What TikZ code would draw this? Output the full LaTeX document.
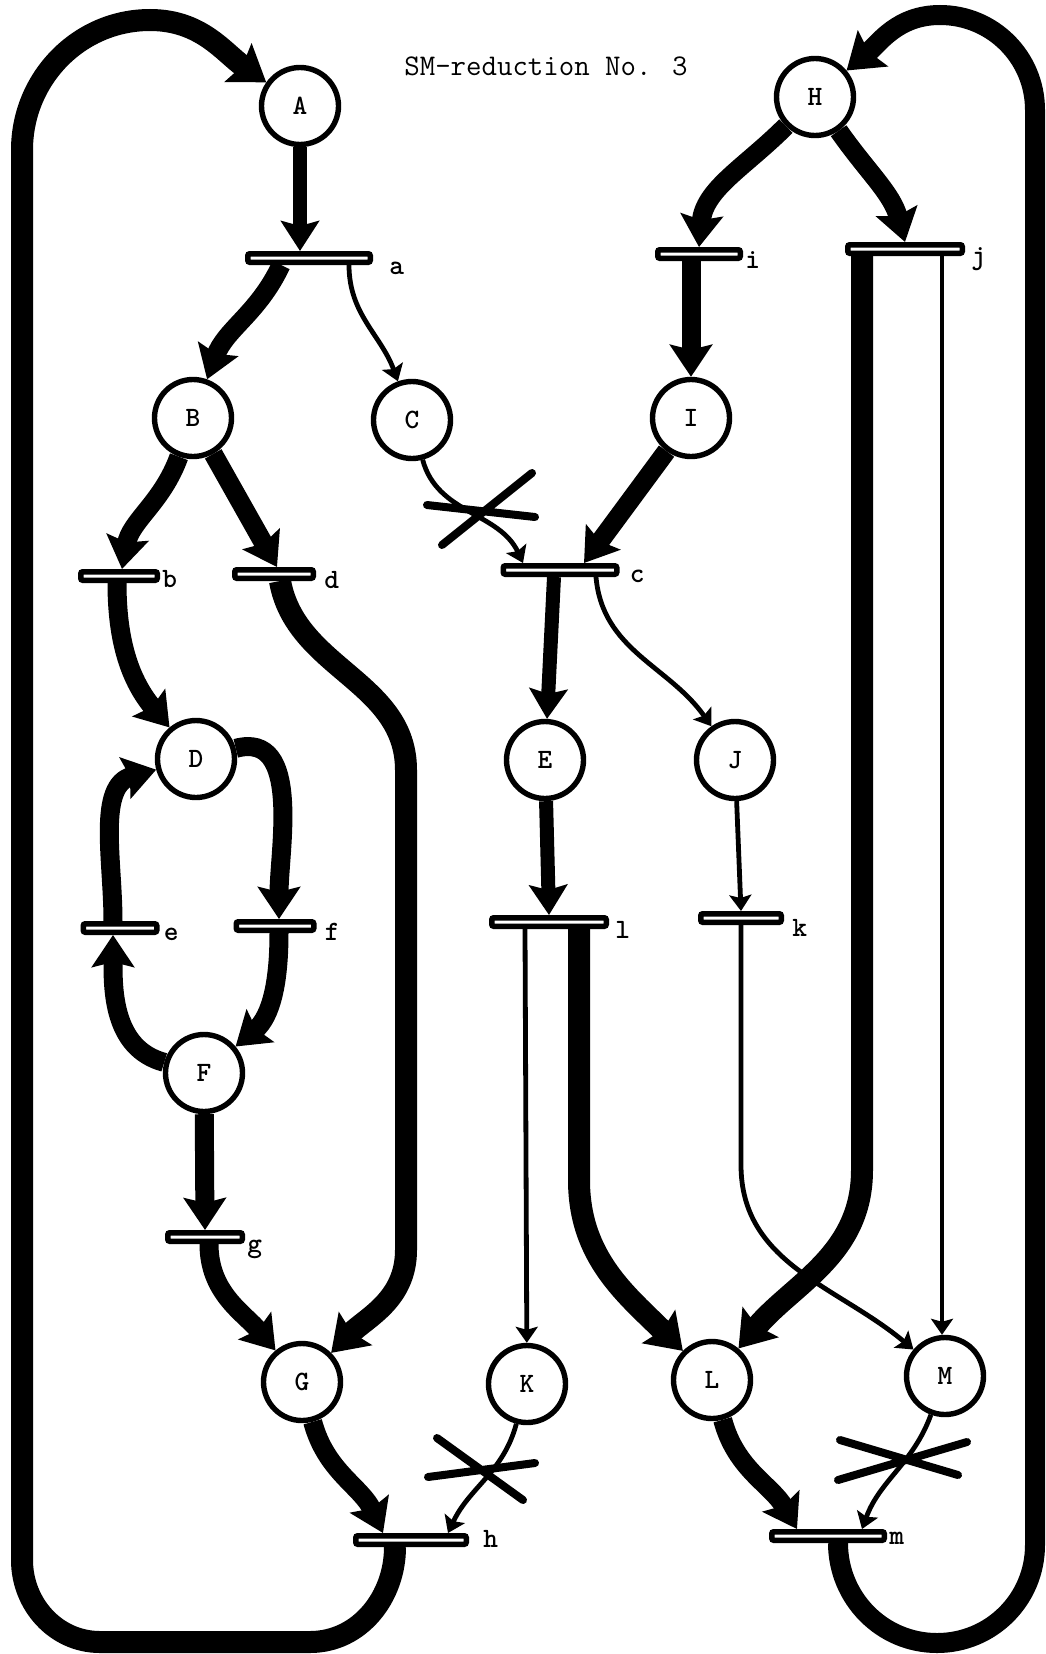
\documentclass[tikz,border=0pt]{standalone}
\usepackage{fontspec}
\newfontfamily\placefont{lmmonolt10-bold.otf}
\usetikzlibrary{arrows.meta}

\tikzset{
  place/.style={circle, draw, fill=white, line width=2.7pt, minimum size=38.5pt, inner sep=0pt,
    font=\placefont\fontsize{14}{15}\selectfont},
  trans/.style={rectangle, draw, fill=white, line width=2.75pt, minimum height=4.25pt,
    inner sep=0pt, rounded corners=1pt},
  lbl/.style={font=\placefont\fontsize{14}{15}\selectfont, inner sep=1pt, yshift=-3pt},
  fatarc/.style={line width=9.5pt, -{Stealth[length=16pt,width=21pt,inset=2.5pt]}},
  midarc/.style={line width=7pt, -{Stealth[length=15pt,width=19pt,inset=2.5pt]}},
  thinarc/.style={line width=2.4pt, -{Stealth[length=8pt,width=11pt,inset=1.5pt]}},
  ringarc/.style={line width=11pt, -{Stealth[length=17pt,width=23pt,inset=2.5pt]}},
  crossmark/.style={line width=4pt, line cap=round},
}

\begin{document}
\begin{tikzpicture}[x=0.5pt, y=-0.5pt]
  \useasboundingbox (0,0) rectangle (1045,1654);

  \node[font=\ttfamily\fontsize{15}{16}\selectfont] (title) at (546,66) {SM-reduction No. 3};

  % places
  \node[place] (A) at (300,106) {A};
  \node[place] (H) at (815,97) {H};
  \node[place] (B) at (193,418) {B};
  \node[place] (C) at (412,420) {C};
  \node[place] (I) at (691,418) {I};
  \node[place] (D) at (196,759) {D};
  \node[place] (E) at (545,760) {E};
  \node[place] (J) at (735,760) {J};
  \node[place] (F) at (204,1073) {F};
  \node[place] (G) at (302,1382) {G};
  \node[place] (K) at (527,1384) {K};
  \node[place] (L) at (712,1380) {L};
  \node[place] (M) at (945,1376) {M};

  % transitions
  \node[trans, minimum width=61.25pt, label={[lbl, label distance=7pt, yshift=-2pt]right:a}] (a) at (309,258) {};
  \node[trans, minimum width=41.25pt, label={[lbl]right:i}] (i) at (699,254) {};
  \node[trans, minimum width=57.25pt, label={[lbl, label distance=2pt, yshift=-2pt]right:j}] (j) at (905,249) {};
  \node[trans, minimum width=38.25pt, label={[lbl, yshift=1.5pt]right:b}] (b) at (119,576) {};
  \node[trans, minimum width=39.25pt, label={[lbl, label distance=3pt]right:d}] (d) at (274,574) {};
  \node[trans, minimum width=56.75pt, label={[lbl, label distance=4pt]right:c}] (c) at (560,570) {};
  \node[trans, minimum width=36.75pt, label={[lbl, label distance=1pt]right:e}] (e) at (120,928) {};
  \node[trans, minimum width=38.75pt, label={[lbl, label distance=3pt]right:f}] (f) at (275,926) {};
  \node[trans, minimum width=57.25pt, label={[lbl, label distance=2pt, yshift=-1pt]right:l}] (l) at (549,922) {};
  \node[trans, minimum width=40.25pt, label={[lbl, label distance=3pt, yshift=-2pt]right:k}] (k) at (741,918) {};
  \node[trans, minimum width=37.25pt, label={[lbl, yshift=-3pt]right:g}] (g) at (205,1237) {};
  \node[trans, minimum width=55.25pt, label={[lbl, label distance=6pt, yshift=3.5pt]right:h}] (h) at (411,1540) {};
  \node[trans, minimum width=56.25pt, label={[lbl, yshift=2pt]right:m}] (m) at (828,1536) {};

  % left half
  \draw[midarc] (A) -- ([xshift=-4.5pt]a.north);
  \draw[fatarc] ([xshift=-14pt]a.south) to[out=-115, in=70] (B);
  \draw[thinarc] ([xshift=20pt]a.south) to[out=-90, in=110] (C);
  \draw[fatarc] (B) to[out=-110, in=80] ([xshift=1.5pt]b.north);
  \draw[fatarc] (B) -- ([xshift=1.5pt]d.north);
  \draw[fatarc] ([xshift=-1pt]b.south) to[out=-90, in=130] (D);
  \draw[ringarc] ([xshift=3pt]d.south) to[out=-80, in=90] (406,770) -- (406,1250) to[out=-90, in=45] (G);
  \draw[fatarc] (D) to[out=15, in=90] ([xshift=2pt]f.north);
  \draw[fatarc] ([xshift=2pt]f.south) to[out=-90, in=40] (F);
  \draw[fatarc] (F) to[out=165, in=-90] ([xshift=-3.5pt]e.south);
  \draw[fatarc] ([xshift=-3.5pt]e.north) to[out=90, in=195] (D);
  \draw[fatarc] (F) -- (g.north);
  \draw[fatarc] ([xshift=2pt]g.south) to[out=-90, in=130] (G);
  \draw[fatarc] (G) to[out=-75, in=115] ([xshift=-14pt]h.north);
  \draw[thinarc] (K) to[out=-105, in=65] ([xshift=18.5pt]h.north);

  % middle and right half
  \draw[thinarc] (C) to[out=-75, in=115] ([xshift=-18.5pt]c.north);
  \draw[fatarc] (I) -- ([xshift=12pt]c.north);
  \draw[fatarc] (H) to[out=-135, in=85] (i.north);
  \draw[fatarc] ([xshift=-4pt]i.south) -- (I);
  \draw[fatarc] (H) to[out=-55, in=105] (j.north);
  \draw[midarc] ([xshift=-3pt]c.south) -- (E);
  \draw[thinarc] ([xshift=18pt]c.south) to[out=-85, in=125] (J);
  \draw[midarc] (E) -- (l.north);
  \draw[thinarc] (J) -- (k.north);
  \draw[thinarc] ([xshift=-12pt]l.south) -- (K);
  \draw[ringarc] ([xshift=15pt]l.south) -- (579,1180) to[out=-90, in=135] (L);
  \draw[ringarc] ([xshift=-21.5pt]j.south) -- (862,1170) to[out=-90, in=50] (L);
  \draw[thinarc] (k.south) -- (741,1165) to[out=-90, in=140] (M);
  \draw[thinarc] ([xshift=18.5pt]j.south) -- ([xshift=-1.5pt]M.north);
  \draw[fatarc] (L) to[out=-75, in=120] ([xshift=-15.5pt]m.north);
  \draw[thinarc] (M) to[out=-110, in=70] ([xshift=17pt]m.north);

  % outer loops
  \draw[ringarc] ([xshift=-8pt]h.south) to[out=-90, in=0] (310,1642) -- (100,1642)
    to[out=180, in=-90] (22,1560) -- (22,150) to[out=90, in=180] (150,20) to[out=0, in=145] (A);
  \draw[ringarc, line width=10pt] ([xshift=5pt]m.south) to[out=-90, in=180] (937,1643)
    to[out=0, in=-90] (1035,1545) -- (1035,110) to[out=90, in=0] (940,15) to[out=180, in=40] (H);

  % crossed-out arcs
  \draw[crossmark] (427,505) -- (535,517) (442,545) -- (532,473);
  \draw[crossmark] (437,1438) -- (523,1500) (428,1477) -- (535,1463);
  \draw[crossmark] (840,1440) -- (958,1475) (838,1480) -- (967,1442);
\end{tikzpicture}
\end{document}
